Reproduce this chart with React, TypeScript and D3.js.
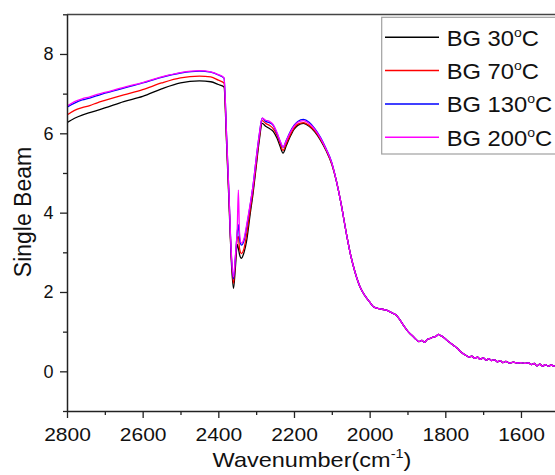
import React, { useRef, useEffect } from "react";
import * as d3 from "d3";

// wavenumbers where the four spectra differ
const headWavenumbers = [
  2800, 2780, 2760, 2740, 2720, 2700, 2650, 2600, 2550, 2500, 2450, 2420, 2400, 2385,
  2378, 2372, 2366, 2360, 2355, 2350, 2347, 2344, 2339, 2332, 2325, 2316, 2308, 2300,
  2292, 2284, 2275, 2265, 2255, 2245, 2237, 2229, 2220, 2210, 2200, 2190, 2175, 2160,
  2145, 2130, 2115, 2100,
];

const bg30Head = [
  6.27, 6.38, 6.46, 6.52, 6.58, 6.64, 6.8, 6.93, 7.12, 7.27, 7.32, 7.3, 7.23, 7.17,
  5.7, 4.3, 2.85, 2.09, 2.6, 3.2, 3.1, 2.95, 2.85, 3.0, 3.3, 3.95, 4.5, 5.15,
  5.8, 6.25, 6.18, 6.12, 6.05, 5.88, 5.68, 5.5, 5.7, 5.92, 6.1, 6.2, 6.25, 6.18,
  6.04, 5.83, 5.56, 5.22,
];
const bg70Head = [
  6.46, 6.58, 6.65, 6.7, 6.77, 6.83, 6.97, 7.1, 7.27, 7.4, 7.44, 7.42, 7.34, 7.27,
  5.8, 4.4, 2.95, 2.22, 2.75, 3.35, 3.4, 3.1, 2.97, 3.1, 3.45, 4.05, 4.58, 5.22,
  5.87, 6.32, 6.25, 6.2, 6.12, 5.95, 5.75, 5.57, 5.75, 5.96, 6.13, 6.23, 6.27, 6.2,
  6.06, 5.85, 5.58, 5.23,
];
const bg130Head = [
  6.66, 6.76, 6.84, 6.89, 6.95, 7.01, 7.14, 7.27, 7.41, 7.52, 7.57, 7.54, 7.47, 7.39,
  5.9, 4.5, 3.0, 2.33, 2.85, 3.5, 3.7, 3.35, 3.18, 3.3, 3.65, 4.18, 4.7, 5.35,
  5.95, 6.38, 6.3, 6.27, 6.2, 6.0, 5.8, 5.65, 5.83, 6.04, 6.2, 6.3, 6.35, 6.28,
  6.12, 5.9, 5.61, 5.26,
];
const bg200Head = [
  6.69, 6.8, 6.87, 6.92, 6.98, 7.03, 7.16, 7.28, 7.42, 7.53, 7.58, 7.55, 7.48, 7.4,
  5.9, 4.5, 3.05, 2.38, 2.9, 3.6, 4.57, 3.5, 3.23, 3.35, 3.7, 4.2, 4.7, 5.35,
  5.95, 6.38, 6.33, 6.3, 6.22, 6.02, 5.82, 5.66, 5.82, 6.02, 6.18, 6.28, 6.32, 6.25,
  6.1, 5.88, 5.6, 5.25,
];

// below ~2100 cm-1 all spectra overlap
const tailWavenumbers = [
  2088, 2075, 2062, 2050, 2038, 2025, 2012, 2000, 1990, 1975, 1960, 1950, 1940, 1930,
  1920, 1910, 1900, 1890, 1880, 1870, 1862, 1855, 1848, 1840, 1832, 1825, 1818, 1812,
  1805, 1798, 1790, 1782, 1775, 1768, 1760, 1752, 1745, 1738, 1730, 1722, 1715, 1708,
  1700, 1692, 1685, 1678, 1670, 1662, 1655, 1648, 1640, 1630, 1620, 1610, 1600, 1590,
  1580, 1572, 1565, 1558, 1550, 1543, 1535, 1528, 1520, 1512, 1505, 1495,
];
const tailValues = [
  4.8, 4.2, 3.5, 2.92, 2.48, 2.12, 1.9, 1.75, 1.63, 1.58, 1.55, 1.52, 1.47, 1.42,
  1.3, 1.15, 1.02, 0.92, 0.83, 0.75, 0.78, 0.73, 0.8, 0.83, 0.86, 0.88, 0.93, 0.9,
  0.86, 0.8, 0.74, 0.68, 0.63, 0.58, 0.5, 0.44, 0.4, 0.36, 0.38, 0.33, 0.36, 0.3,
  0.34, 0.28, 0.32, 0.27, 0.29, 0.24, 0.27, 0.22, 0.25, 0.21, 0.23, 0.21, 0.22, 0.2,
  0.21, 0.17, 0.2, 0.14, 0.18, 0.13, 0.17, 0.13, 0.16, 0.13, 0.15, 0.13,
];

const seriesNames = ["BG 30", "BG 70", "BG 130", "BG 200"];
const seriesHeads = [bg30Head, bg70Head, bg130Head, bg200Head];
const seriesColors = ["#000000", "#ff0000", "#0000ff", "#ff00ff"];

const xTicks = [2800, 2600, 2400, 2200, 2000, 1800, 1600];
const xMinorTicks = [2700, 2500, 2300, 2100, 1900, 1700, 1500];
const yTicks = [0, 2, 4, 6, 8];
const yMinorTicks = [-1, 1, 3, 5, 7, 9];

const FONT = "'Liberation Sans', Arial, sans-serif";

export default function App() {
  const ref = useRef<SVGSVGElement | null>(null);

  useEffect(() => {
    const svg = d3.select(ref.current);
    svg.selectAll("*").remove();

    const x = d3.scaleLinear().domain([2800, 1500]).range([67, 558.8]);
    const y = d3.scaleLinear().domain([-1, 9]).range([411, 14.3]);

    const wn = [...headWavenumbers, ...tailWavenumbers];
    const series = seriesHeads.map((head, i) => ({
      name: seriesNames[i],
      color: seriesColors[i],
      points: wn.map((w, j) => [w, j < head.length ? head[j] : tailValues[j - head.length]]),
    }));

    svg.append("defs").append("clipPath").attr("id", "plot-clip")
      .append("rect")
      .attr("x", 67).attr("y", 14.3)
      .attr("width", 500).attr("height", 411 - 14.3);

    const line = d3.line<number[]>()
      .x(d => x(d[0]))
      .y(d => y(d[1]))
      .curve(d3.curveMonotoneX);

    svg.append("g")
      .attr("clip-path", "url(#plot-clip)")
      .selectAll("path")
      .data(series)
      .enter()
      .append("path")
      .attr("d", d => line(d.points))
      .attr("fill", "none")
      .attr("stroke", d => d.color)
      .attr("stroke-width", 1.3)
      .attr("stroke-linejoin", "round");

    // top frame line
    svg.append("line")
      .attr("x1", 67).attr("x2", 560)
      .attr("y1", 14.5).attr("y2", 14.5)
      .attr("stroke", "#444").attr("stroke-width", 1.6);

    // x axis
    const gx = svg.append("g").attr("transform", "translate(0,411)");
    gx.call(d3.axisBottom(x).tickValues(xTicks).tickSize(7).tickSizeOuter(0).tickFormat(d3.format("d")));
    gx.append("g")
      .call(d3.axisBottom(x).tickValues(xMinorTicks).tickSize(4).tickSizeOuter(0).tickFormat(() => ""))
      .select(".domain").remove();
    gx.selectAll(".domain").attr("stroke", "#222").attr("stroke-width", 1.5);
    gx.selectAll(".tick line").attr("stroke", "#222").attr("stroke-width", 1.3);
    gx.selectAll(".tick text")
      .attr("y", 17.3)
      .attr("dy", "0.71em")
      .attr("transform", "scale(1.2,1)")
      .style("font-family", FONT)
      .style("font-size", "17.5px")
      .attr("fill", "#111");

    // y axis
    const gy = svg.append("g").attr("transform", "translate(67,0)");
    gy.call(d3.axisLeft(y).tickValues(yTicks).tickSize(7).tickSizeOuter(0).tickPadding(6.5));
    gy.append("g")
      .call(d3.axisLeft(y).tickValues(yMinorTicks).tickSize(4).tickSizeOuter(0).tickFormat(() => ""))
      .select(".domain").remove();
    gy.selectAll(".domain").attr("stroke", "#222").attr("stroke-width", 1.5);
    gy.selectAll(".tick line").attr("stroke", "#222").attr("stroke-width", 1.3);
    gy.selectAll(".tick text")
      .style("font-family", FONT)
      .style("font-size", "18px")
      .attr("fill", "#111");

    // axis titles
    const xt = svg.append("text")
      .attr("transform", "translate(312,466.7) scale(1.12,1)")
      .attr("text-anchor", "middle")
      .style("font-family", FONT)
      .style("font-size", "21px")
      .attr("fill", "#111");
    xt.append("tspan").text("Wavenumber(cm");
    xt.append("tspan").text("-1").attr("dy", -9).style("font-size", "13px");
    xt.append("tspan").text(")").attr("dy", 9);

    svg.append("text")
      .attr("transform", "translate(30.5,212) rotate(-90)")
      .attr("text-anchor", "middle")
      .style("font-family", FONT)
      .style("font-size", "23px")
      .attr("fill", "#111")
      .text("Single Beam");

    // legend
    const lg = svg.append("g");
    lg.append("rect")
      .attr("x", 381.7).attr("y", 17.3)
      .attr("width", 200).attr("height", 136.7)
      .attr("fill", "#fff")
      .attr("stroke", "#a0a0a0")
      .attr("stroke-width", 1.2);

    series.forEach((s, i) => {
      const cy = 37.3 + i * 33.3;
      lg.append("line")
        .attr("x1", 385).attr("x2", 439)
        .attr("y1", cy).attr("y2", cy)
        .attr("stroke", s.color)
        .attr("stroke-width", 1.5);
      const t = lg.append("text")
        .attr("transform", `translate(446.7,${cy + 8.4}) scale(1.08,1)`)
        .style("font-family", FONT)
        .style("font-size", "22px")
        .attr("fill", "#111");
      t.append("tspan").text(s.name);
      t.append("tspan").text("o").attr("dy", -9).style("font-size", "13px");
      t.append("tspan").text("C").attr("dy", 9);
    });
  }, []);

  return (
    <svg
      ref={ref}
      width={555}
      height={475}
      style={{ position: "absolute", left: 0, top: 0, background: "#fff" }}
    />
  );
}
